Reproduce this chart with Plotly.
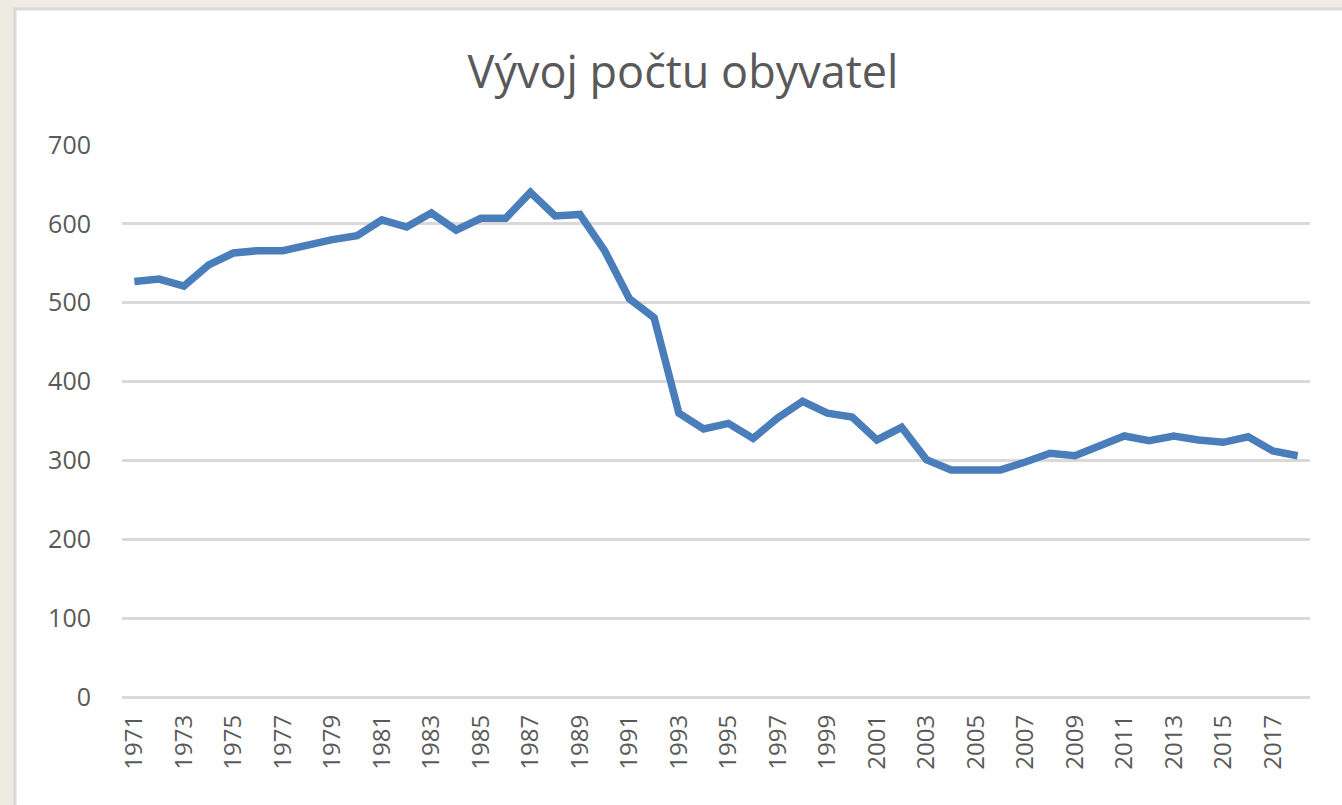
import plotly.graph_objects as go

years = list(range(1971, 2019))
population = [527, 530, 521, 548, 563, 566, 566, 574, 580, 585,
              605, 596, 614, 592, 607, 607, 640, 610, 612, 566,
              505, 481, 360, 340, 347, 328, 354, 375, 360, 355,
              326, 342, 301, 288, 288, 288, 298, 309, 306, 319,
              331, 325, 331, 326, 323, 330, 312, 306]
tick_years = [str(y) for y in years if y % 2 == 1]
y_ticks = [0, 100, 200, 300, 400, 500, 600, 700]

W, H = 1342, 805
L, R, T, B = 122, 32, 145, 108
pw, ph = W - L - R, H - T - B

def px(x):
    return (x - L) / pw

def py(y):
    return (H - B - y) / ph

fig = go.Figure()
fig.add_trace(go.Scatter(
    x=[str(y) for y in years], y=population, mode="lines",
    line=dict(color="#4A7EBB", width=7.5), hoverinfo="x+y"))

fig.add_shape(type="rect", xref="paper", yref="paper",
              x0=px(15), x1=px(W + 10), y0=py(H + 10), y1=py(9),
              fillcolor="white", line=dict(color="#D9D9D9", width=3),
              layer="below")

fig.update_layout(
    width=W, height=H,
    margin=dict(l=L, r=R, t=T, b=B),
    paper_bgcolor="#EEEBE3", plot_bgcolor="white",
    showlegend=False,
    font=dict(family="Open Sans, Noto Sans, sans-serif", color="#595959"),
    title=dict(text="Vývoj počtu obyvatel", x=(683 - L) / pw, xref="paper",
               xanchor="center",
               y=1 - 72 / H, yanchor="middle",
               font=dict(size=45, color="#595959")),
)
fig.update_xaxes(type="category", tickmode="array", tickvals=tick_years,
                 ticktext=tick_years, tickangle=-90,
                 tickfont=dict(size=24, family="Open Sans"),
                 range=[-0.5, len(years) - 0.5], automargin=False,
                 showgrid=False, showline=False, zeroline=False, ticks="",
                 ticklabelstandoff=12)
fig.update_yaxes(range=[0, 700], tickvals=y_ticks, tickfont=dict(size=25),
                 showgrid=True, gridcolor="#D9D9D9", gridwidth=2.5,
                 zeroline=True, zerolinecolor="#D9D9D9", zerolinewidth=2.5,
                 showline=False, ticks="", ticklabelstandoff=30)

fig.write_html("out.html", config={"displayModeBar": False},
               post_script="document.body.style.margin='0';"
                           "document.body.style.overflow='hidden';")
